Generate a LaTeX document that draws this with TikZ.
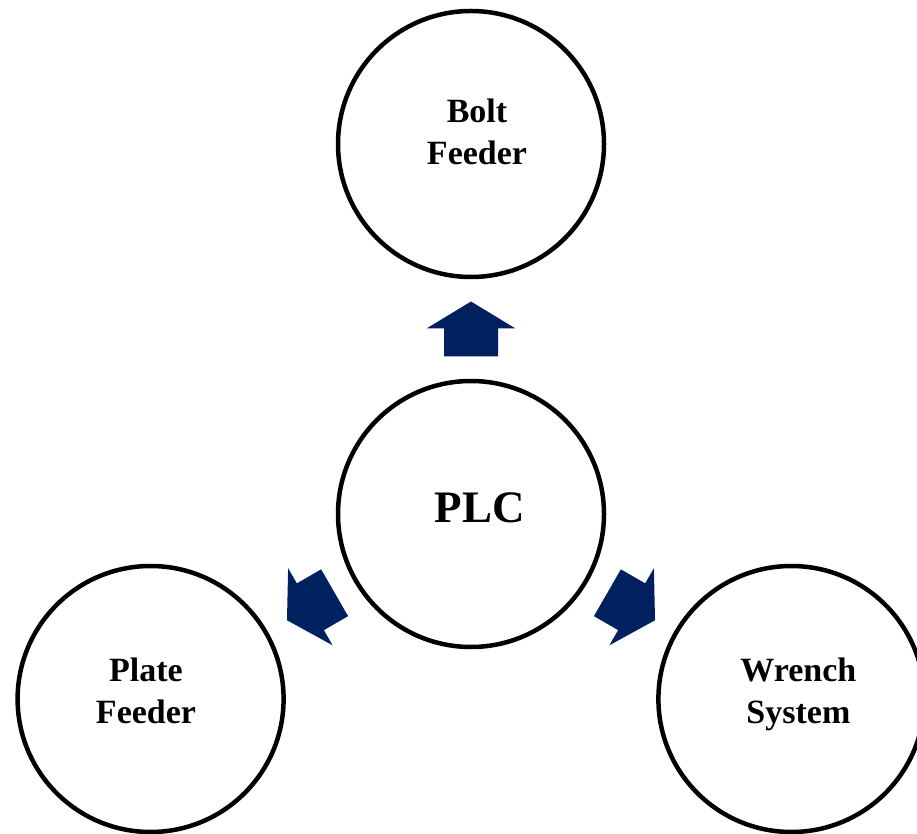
\documentclass[tikz,border=0pt]{standalone}
\usepackage{fontspec}
\setmainfont{Liberation Serif}
\usetikzlibrary{calc}
\definecolor{navy}{RGB}{0,32,96}
\begin{document}
\begin{tikzpicture}[x=1pt,y=1pt,
  unit/.style={circle, draw=black, line width=4.5pt, minimum size=266pt, inner sep=0pt},
  caption/.style={font=\bfseries\fontsize{34}{42}\selectfont, align=center, inner sep=0pt},
  bigcaption/.style={font=\bfseries\fontsize{45}{54}\selectfont, inner sep=0pt},
  pics/flow/.style={code={
    \fill[navy] (-27.5,-27) -- (0.5,-27) -- (0.5,-44.5) -- (27.5,0)
      -- (0.5,44.5) -- (0.5,27) -- (-27.5,27) -- cycle;}}]
\useasboundingbox (0,0) rectangle (917,833);

% controller in the middle, three stations around it
\node[unit] (plc) at (471,319) {};
\node[unit] (bolt) at (471,689) {};
\node[unit] (plate) at (150.6,134) {};
\node[unit] (wrench) at (791.4,134) {};

% labels
\node[bigcaption] (plc-text) at ($(plc)+(8.5,6)$) {PLC};
\node[caption] (bolt-text) at ($(bolt)+(6,12.5)$) {Bolt\\Feeder};
\node[caption] (plate-text) at ($(plate)+(-4.6,8.5)$) {Plate\\Feeder};
\node[caption] (wrench-text) at ($(wrench)+(7,4.3)$) {Wrench\\System};

% block arrows from the controller to each station
\pic[rotate=90] (to-bolt) at ($(plc)!0.5!(bolt)$) {flow};
\pic[rotate=210] (to-plate) at ($(plc)!0.5!(plate)$) {flow};
\pic[rotate=330] (to-wrench) at ($(plc)!0.5!(wrench)$) {flow};
\end{tikzpicture}
\end{document}
